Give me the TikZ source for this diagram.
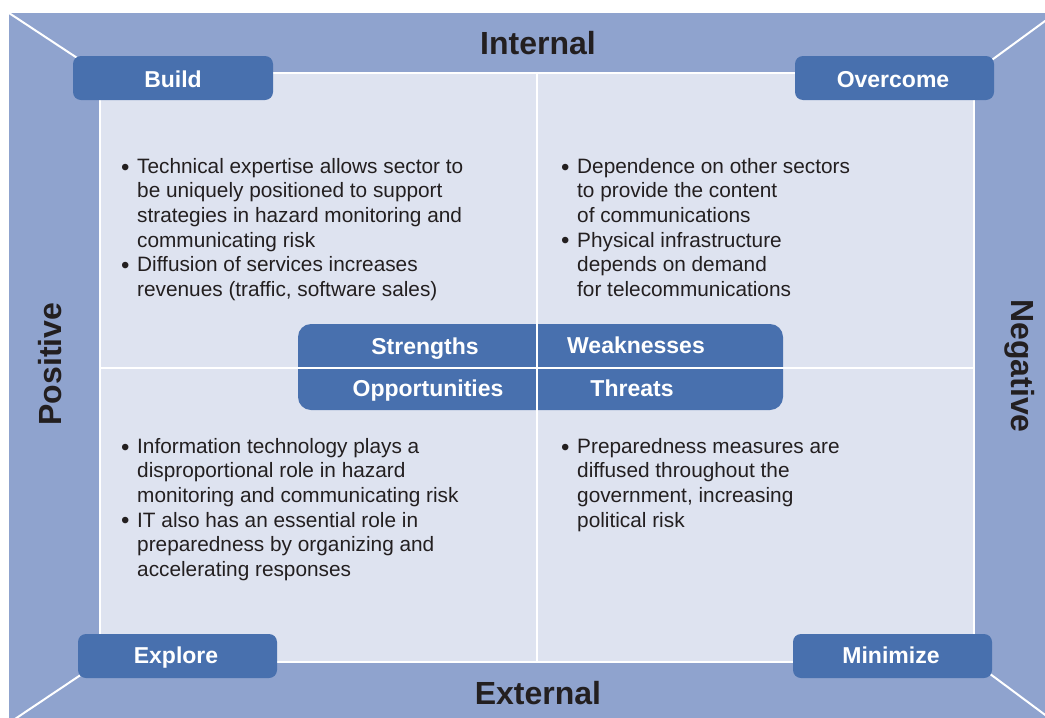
\documentclass[tikz,border=0pt]{standalone}
\usepackage{fontspec}
\setmainfont{Liberation Sans}
\definecolor{outerblue}{RGB}{143,163,206}
\definecolor{innerlight}{RGB}{222,227,240}
\definecolor{boxblue}{RGB}{72,112,174}
\definecolor{txt}{RGB}{35,31,32}
\newcommand{\bul}{\makebox[16pt][l]{\raisebox{-1.75pt}{\fontsize{24}{24}\selectfont•}}}
\newcommand{\ind}{\hspace*{16pt}}
\begin{document}
\begin{tikzpicture}[x=1pt,y=-1pt,
  corner/.style={fill=boxblue, rounded corners=8pt, draw=none},
  lbl/.style={text=white, font=\fontsize{23}{26}\selectfont\bfseries, inner sep=0pt, anchor=base},
  side/.style={text=txt, font=\fontsize{32}{36}\selectfont\bfseries, inner sep=0pt},
  body/.style={text=txt, font=\fontsize{20.8}{24.6}\selectfont, align=left, anchor=north west, inner sep=0pt},
  divider/.style={white, line width=2pt}]
\useasboundingbox (0,0) rectangle (1045,718);
\begin{scope}
\clip (0,0) rectangle (1045,718);
\fill[outerblue] (9,13) rectangle (1056,723);
\coordinate (o1) at (9,13);
\coordinate (o2) at (1056,13);
\coordinate (o3) at (1056,723);
\coordinate (o4) at (9,723);
\coordinate (i1) at (100,73);
\coordinate (i2) at (974,73);
\coordinate (i3) at (974,662);
\coordinate (i4) at (100,662);
\draw[divider] (o1) -- (i1);
\draw[divider] (o2) -- (i2);
\draw[divider] (o3) -- (i3);
\draw[divider] (o4) -- (i4);
\end{scope}
\fill[innerlight, draw=white, line width=1.2pt] (i1) rectangle (i3);
% centre box
\fill[boxblue, rounded corners=13pt] (298,324) rectangle (783,410);
\draw[divider] (537,73) -- (537,662);
\draw[divider] (100,368) -- (974,368);
% corner boxes
\fill[corner] (73,56) rectangle (273,100);
\fill[corner] (795,56) rectangle (994,100);
\fill[corner] (78,634) rectangle (277,678);
\fill[corner] (793,634) rectangle (992,678);
\node[lbl] (build) at (173,87) {Build};
\node[lbl] (overcome) at (893,87) {Overcome};
\node[lbl] (explore) at (176,663) {Explore};
\node[lbl] (minimize) at (891,663) {Minimize};
\node[lbl] (s) at (425,354) {Strengths};
\node[lbl] (w) at (636,353) {Weaknesses};
\node[lbl] (o) at (428,396) {Opportunities};
\node[lbl] (t) at (632,396) {Threats};
% side labels
\node[side] (internal) at (538,43) {Internal};
\node[side] (external) at (538,693) {External};
\node[side, rotate=90] (positive) at (50,364) {Positive};
\node[side, rotate=-90] (negative) at (1020,366) {Negative};
% body text
\node[body] (tl) at (121,158) {\bul Technical expertise allows sector to\\
\ind be uniquely positioned to support\\
\ind strategies in hazard monitoring and\\
\ind communicating risk\\
\bul Diffusion of services increases\\
\ind revenues (traffic, software sales)};
\node[body] (tr) at (561,158) {\bul Dependence on other sectors\\
\ind to provide the content\\
\ind of communications\\
\bul Physical infrastructure\\
\ind depends on demand\\
\ind for telecommunications};
\node[body] (bl) at (121,438) {\bul Information technology plays a\\
\ind disproportional role in hazard\\
\ind monitoring and communicating risk\\
\bul IT also has an essential role in\\
\ind preparedness by organizing and\\
\ind accelerating responses};
\node[body] (br) at (561,438) {\bul Preparedness measures are\\
\ind diffused throughout the\\
\ind government, increasing\\
\ind political risk};
\end{tikzpicture}
\end{document}
